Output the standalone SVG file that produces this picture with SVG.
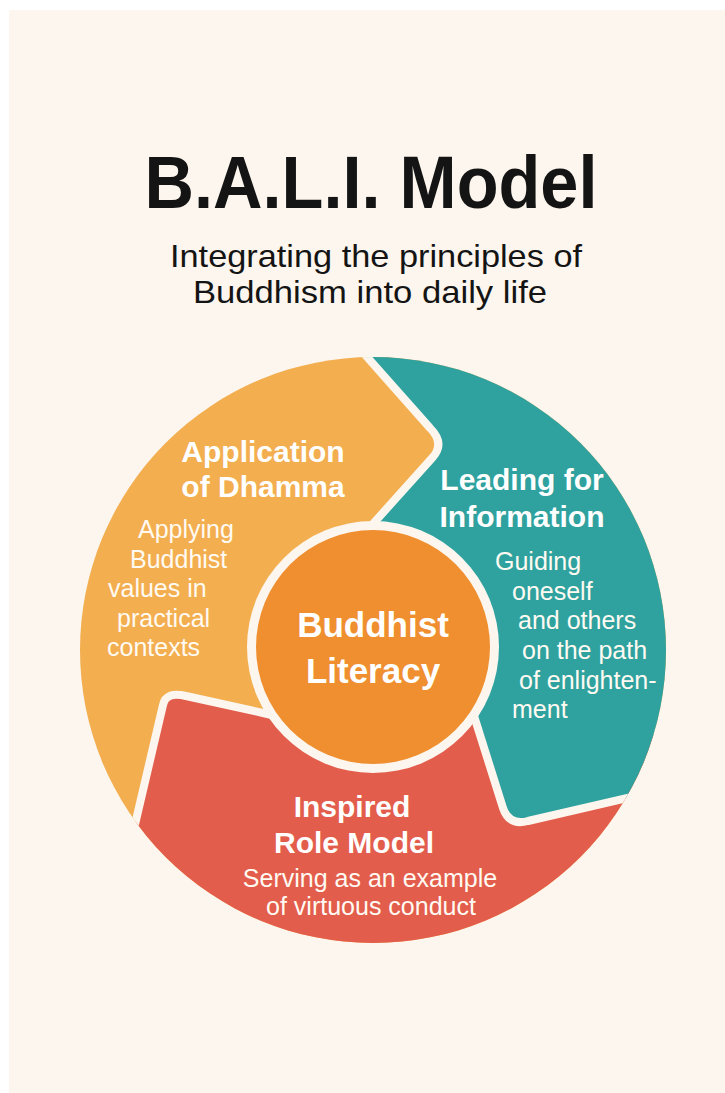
<svg xmlns="http://www.w3.org/2000/svg" width="725" height="1093" viewBox="0 0 725 1093">
<defs>
<style>
.t{font-family:"Liberation Sans",Arial,sans-serif;fill:#141414}
.h{font-family:"Liberation Sans",Arial,sans-serif;font-weight:bold;fill:#ffffff;font-size:30px;text-anchor:middle}
.b{font-family:"Liberation Sans",Arial,sans-serif;fill:#fffaf2;font-size:25px}
.sep{stroke:#FCF6EE;stroke-width:8;stroke-linejoin:round}
</style>
<clipPath id="disc"><circle cx="373" cy="650" r="293"/></clipPath>
</defs>
<rect width="725" height="1093" fill="#ffffff"/>
<rect x="9" y="10" width="716" height="1083" fill="#FCF6EE"/>
<g id="title">
<text class="t" x="371" y="208" font-size="74" font-weight="bold" text-anchor="middle" textLength="453" lengthAdjust="spacingAndGlyphs">B.A.L.I. Model</text>
<text class="t" x="376" y="267" font-size="32" text-anchor="middle" textLength="412" lengthAdjust="spacingAndGlyphs">Integrating the principles of</text>
<text class="t" x="370" y="303" font-size="32" text-anchor="middle" textLength="354" lengthAdjust="spacingAndGlyphs">Buddhism into daily life</text>
</g>
<g id="node-application">
<circle cx="373" cy="650" r="293" fill="#F3AE50"/>
<text class="h" x="263" y="462">Application</text>
<text class="h" x="263" y="497">of Dhamma</text>
<text class="b" x="138" y="538">Applying</text>
<text class="b" x="130" y="568">Buddhist</text>
<text class="b" x="108" y="597">values in</text>
<text class="b" x="117" y="627">practical</text>
<text class="b" x="107" y="656">contexts</text>
</g>
<g id="node-inspired">
<path class="sep" clip-path="url(#disc)" fill="#E35D4C" d="M 129 850 L 163 705 Q 166 691 186 696 L 263 713 L 320 726 L 420 700 L 600 700 L 700 760 L 700 1000 L 100 1000 Z"/>
<text class="h" x="352" y="817">Inspired</text>
<text class="h" x="354" y="853">Role Model</text>
<text class="b" x="370" y="887" text-anchor="middle">Serving as an example</text>
<text class="b" x="371" y="915" text-anchor="middle">of virtuous conduct</text>
</g>
<g id="node-leading">
<path class="sep" clip-path="url(#disc)" fill="#2FA29F" d="M 352 300 L 352 340 L 430 428 Q 445 443 433 457 L 354 545 L 380 648 L 469 700 L 503 808 Q 509 826 528 821 L 700 781 L 700 300 Z"/>
<text class="h" x="522" y="490">Leading for</text>
<text class="h" x="522" y="527">Information</text>
<text class="b" x="495" y="570">Guiding</text>
<text class="b" x="512" y="600">oneself</text>
<text class="b" x="518" y="629">and others</text>
<text class="b" x="522" y="659">on the path</text>
<text class="b" x="519" y="689">of enlighten-</text>
<text class="b" x="512" y="718">ment</text>
</g>
<g id="node-center">
<circle cx="373" cy="647" r="126" fill="#FCF6EE"/>
<circle cx="373" cy="647" r="117" fill="#EF8F2F"/>
<text class="h" x="373" y="637" style="font-size:35px">Buddhist</text>
<text class="h" x="373" y="683" style="font-size:35px">Literacy</text>
</g>
<g id="connectors"/>
</svg>
